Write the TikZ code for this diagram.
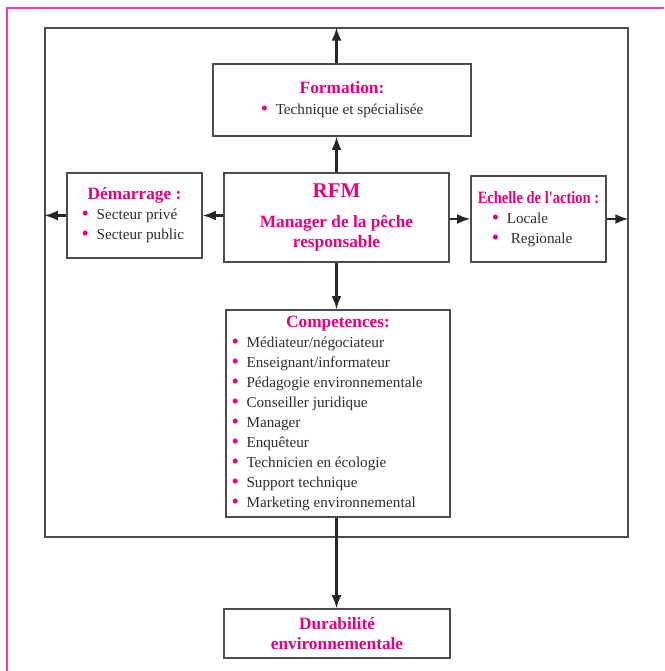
\documentclass[tikz,border=0pt]{standalone}
\usepackage{fontspec}
\setmainfont{Liberation Serif}
\usepackage{xcolor}
\usepackage{graphicx}
\usetikzlibrary{arrows.meta}
\definecolor{rose}{RGB}{230,0,126}
\definecolor{ink}{RGB}{45,45,45}
\newcommand{\puce}{\makebox[15pt][l]{\color{rose}\fontsize{21}{20}\selectfont\raisebox{-1pt}{\textbullet}}}
\newcommand{\titre}[1]{{\color{rose}\bfseries\fontsize{17.3}{20}\selectfont #1}}

\begin{document}
\begin{tikzpicture}[x=1pt,y=-1pt,>=Latex,
  boite/.style={draw=black!70,line width=1.2pt,inner sep=0pt,text=ink,
    font=\fontsize{15.2}{20}\selectfont},
  fleche/.style={->,line width=2.3pt,draw=black!85}]
 \useasboundingbox (0,0) rectangle (664,671);
 \draw[rose!75,line width=1.6pt] (7,671)--(7,8)--(664,8);
 \node[boite,minimum width=583pt,minimum height=509pt] (cadre) at (336.5,282.5) {};
 \node[boite,minimum width=258pt,minimum height=72pt] (formation) at (342,100)
  {\begin{tabular}{@{}l@{}}\multicolumn{1}{c}{\titre{Formation:}}\\[1pt]
   \puce Technique et spécialisée\end{tabular}};
 \node[boite,minimum width=225pt,minimum height=89pt,align=center,text=rose,
   font=\bfseries\fontsize{17.3}{20}\selectfont] (rfm) at (336.5,217.5)
  {{\fontsize{21}{24}\selectfont RFM}\\[10pt] Manager de la pêche\\ responsable};
 \node[boite,minimum width=135pt,minimum height=85pt] (demarrage) at (134.5,215.5)
  {\begin{tabular}{@{}l@{}}\multicolumn{1}{c}{\titre{Démarrage :}}\\
   \puce Secteur privé\\ \puce Secteur public\end{tabular}};
 \node[boite,minimum width=135pt,minimum height=86pt] (echelle) at (538.5,219)
  {\begin{tabular}{@{}l@{}}\multicolumn{1}{c}{\scalebox{0.84}[1]{\titre{Echelle de l\textquotesingle action :}}}\\
   \hspace{20pt}\puce Locale\\ \hspace{20pt}\puce\hspace{4pt}Regionale\end{tabular}};
 \node[boite,minimum width=224pt,minimum height=207pt] (competences) at (338,413.5)
  {\begin{tabular}{@{}l@{}}\multicolumn{1}{c}{\kern22pt\titre{Competences:}}\\
   \puce Médiateur/négociateur\\
   \puce Enseignant/informateur\\
   \puce Pédagogie environnementale\\
   \puce Conseiller juridique\\
   \puce Manager\\
   \puce Enquêteur\\
   \puce Technicien en écologie\\
   \puce Support technique\\
   \puce Marketing environnemental\end{tabular}\kern22pt};
 \node[boite,minimum width=226pt,minimum height=49pt,align=center,text=rose,
   font=\bfseries\fontsize{17.3}{20}\selectfont] (durabilite) at (337,633.5)
  {Durabilité\\ environnementale};
 \draw[fleche] (rfm.north) -- (rfm.north |- formation.south);
 \draw[fleche] (rfm.north |- formation.north) -- (rfm.north |- cadre.north);
 \draw[fleche] (rfm.west |- demarrage.east) -- (demarrage.east);
 \draw[fleche] (demarrage.west) -- (cadre.west |- demarrage.west);
 \draw[fleche] (rfm.east |- echelle.west) -- (echelle.west);
 \draw[fleche] (echelle.east) -- (cadre.east |- echelle.east);
 \draw[fleche] (rfm.south) -- (rfm.south |- competences.north);
 \draw[fleche] (rfm.south |- competences.south) -- (rfm.south |- durabilite.north);
\end{tikzpicture}
\end{document}
